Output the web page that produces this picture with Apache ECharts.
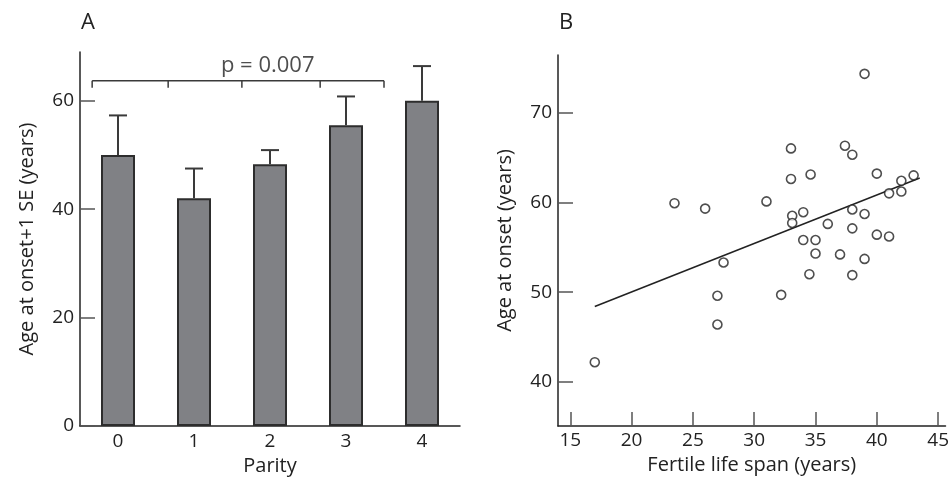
<!DOCTYPE html>
<html>
<head>
<meta charset="utf-8">
<script src="https://cdn.jsdelivr.net/npm/echarts@6/dist/echarts.min.js"></script>
<style>
  html, body { margin: 0; padding: 0; background: #fff; }
  #chart { width: 952px; height: 482px; }
</style>
</head>
<body>
<div id="chart"></div>
<script>
// panel A: age at onset by parity (mean + 1 SE)
const parity = ['0', '1', '2', '3', '4'];
const meanAge = [50.0, 42.0, 48.3, 55.5, 60.0];
const meanPlusSE = [57.3, 47.5, 50.9, 60.8, 66.4];
const ageTicksA = [0, 20, 40, 60];

// significance bracket over parity 0-3
const bracketX = [-0.34, 0.66, 1.63, 2.66, 3.5];
const bracketLow = 62.4;
const bracketHigh = 63.7;
const pLabel = 'p = 0.007';
const pLabelX = 1.97;

// panel B: fertile life span vs age at onset
const fertileSpan = [
  17.0, 23.5, 26.0, 27.0, 27.0, 27.5, 31.0, 32.2, 33.0, 33.0,
  33.1, 33.1, 34.0, 34.0, 34.6, 34.5, 35.0, 35.0, 36.0, 37.0,
  37.4, 38.0, 38.0, 38.0, 38.0, 39.0, 39.0, 39.0, 40.0, 40.0,
  41.0, 41.0, 42.0, 42.0, 43.0
];
const onsetAge = [
  42.2, 59.9, 59.3, 49.6, 46.4, 53.3, 60.1, 49.7, 66.0, 62.6,
  58.5, 57.7, 58.9, 55.8, 63.1, 52.0, 55.8, 54.3, 57.6, 54.2,
  66.3, 65.3, 59.2, 57.1, 51.9, 74.3, 58.7, 53.7, 63.2, 56.4,
  61.0, 56.2, 62.4, 61.2, 63.0
];
const fitX = [17.0, 43.5];
const fitY = [48.4, 62.7];
const spanTicks = [15, 20, 25, 30, 35, 40, 45];
const ageTicksB = [40, 50, 60, 70];

const font = 'Open Sans';
const ink = '#222';

const chart = echarts.init(document.getElementById('chart'), null, { renderer: 'canvas' });

const tickText = { color: ink, fontFamily: font, fontSize: 19 };
const nameText = { color: ink, fontFamily: font, fontSize: 20 };

chart.setOption({
  animation: false,
  backgroundColor: '#fff',
  textStyle: { fontFamily: font },
  title: [
    { text: 'A', left: 76, top: 7, textStyle: { fontFamily: font, fontSize: 22, fontWeight: 'normal', color: ink } },
    { text: 'B', left: 554, top: 7, textStyle: { fontFamily: font, fontSize: 22, fontWeight: 'normal', color: ink } }
  ],
  grid: [
    { left: 80, top: 52, width: 380, height: 374 },
    { left: 558, top: 55, width: 394, height: 371 }
  ],
  xAxis: [
    {
      type: 'category',
      gridIndex: 0,
      data: parity,
      name: 'Parity',
      nameLocation: 'middle',
      nameGap: 23,
      nameTextStyle: nameText,
      axisLine: { onZero: false, lineStyle: { color: ink, width: 1.5 } },
      axisTick: { show: false },
      axisLabel: Object.assign({ margin: 6 }, tickText)
    },
    {
      type: 'value',
      gridIndex: 0,
      min: -0.5,
      max: 4.5,
      show: false
    },
    {
      type: 'value',
      gridIndex: 1,
      min: 14,
      max: 45.6,
      name: 'Fertile life span (years)',
      nameLocation: 'middle',
      nameGap: 23,
      nameTextStyle: nameText,
      splitLine: { show: false },
      axisLine: { onZero: false, lineStyle: { color: ink, width: 1.5 } },
      axisTick: { inside: true, length: 14, customValues: spanTicks, lineStyle: { color: '#555', width: 1.5 } },
      axisLabel: Object.assign({ margin: 5, customValues: spanTicks }, tickText)
    }
  ],
  yAxis: [
    {
      type: 'value',
      gridIndex: 0,
      min: 0,
      max: 69,
      name: 'Age at onset+1 SE (years)',
      nameLocation: 'middle',
      nameGap: 43,
      nameTextStyle: nameText,
      splitLine: { show: false },
      axisLine: { show: true, onZero: false, lineStyle: { color: ink, width: 1.5 } },
      axisTick: { show: true, inside: true, length: 15, customValues: ageTicksA, lineStyle: { color: '#555', width: 1.5 } },
      axisLabel: Object.assign({ margin: 6, customValues: ageTicksA }, tickText)
    },
    {
      type: 'value',
      gridIndex: 1,
      min: 35.1,
      max: 76.4,
      name: 'Age at onset (years)',
      nameLocation: 'middle',
      nameGap: 43,
      nameTextStyle: nameText,
      splitLine: { show: false },
      axisLine: { show: true, onZero: false, lineStyle: { color: ink, width: 1.5 } },
      axisTick: { show: true, inside: true, length: 15, customValues: ageTicksB, lineStyle: { color: '#555', width: 1.5 } },
      axisLabel: Object.assign({ margin: 6, customValues: ageTicksB }, tickText)
    }
  ],
  series: [
    {
      type: 'bar',
      xAxisIndex: 0,
      yAxisIndex: 0,
      data: meanAge,
      barWidth: 34,
      itemStyle: { color: '#808185', borderColor: '#2d2d2d', borderWidth: 2 },
      z: 2
    },
    {
      // error bars: bar top up to mean + 1 SE, with a cap
      type: 'custom',
      xAxisIndex: 0,
      yAxisIndex: 0,
      data: parity.map((p, i) => [i, meanAge[i], meanPlusSE[i]]),
      renderItem: function (params, api) {
        const base = api.coord([api.value(0), api.value(1)]);
        const top = api.coord([api.value(0), api.value(2)]);
        const style = { stroke: '#3a3a3a', lineWidth: 2 };
        return {
          type: 'group',
          children: [
            { type: 'line', shape: { x1: base[0], y1: base[1], x2: top[0], y2: top[1] }, style: style },
            { type: 'line', shape: { x1: top[0] - 9, y1: top[1], x2: top[0] + 9, y2: top[1] }, style: style }
          ]
        };
      },
      z: 3
    },
    {
      type: 'line',
      xAxisIndex: 1,
      yAxisIndex: 0,
      data: [[bracketX[0], bracketHigh], [bracketX[bracketX.length - 1], bracketHigh]],
      symbol: 'none',
      lineStyle: { color: '#3a3a3a', width: 1.5 },
      silent: true
    },
    {
      type: 'custom',
      xAxisIndex: 1,
      yAxisIndex: 0,
      data: bracketX.map(x => [x, bracketLow, bracketHigh]),
      renderItem: function (params, api) {
        const a = api.coord([api.value(0), api.value(1)]);
        const b = api.coord([api.value(0), api.value(2)]);
        return { type: 'line', shape: { x1: a[0], y1: a[1], x2: b[0], y2: b[1] }, style: { stroke: '#3a3a3a', lineWidth: 1.5 } };
      }
    },
    {
      type: 'scatter',
      xAxisIndex: 1,
      yAxisIndex: 0,
      data: [[pLabelX, bracketHigh]],
      symbolSize: 0,
      silent: true,
      label: {
        show: true,
        position: 'top',
        distance: 4,
        formatter: pLabel,
        color: ink,
        fontFamily: font,
        fontSize: 22
      }
    },
    {
      type: 'line',
      xAxisIndex: 2,
      yAxisIndex: 1,
      data: fitX.map((x, i) => [x, fitY[i]]),
      symbol: 'none',
      lineStyle: { color: '#222', width: 1.5 },
      z: 2
    },
    {
      type: 'scatter',
      xAxisIndex: 2,
      yAxisIndex: 1,
      data: fertileSpan.map((x, i) => [x, onsetAge[i]]),
      symbol: 'circle',
      symbolSize: 9,
      itemStyle: { color: '#fff', borderColor: '#222', borderWidth: 1.6 },
      z: 3
    }
  ]
});
</script>
</body>
</html>
